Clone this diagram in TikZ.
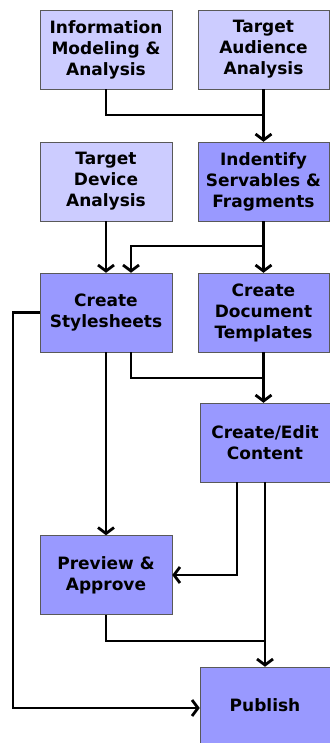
\documentclass[tikz,border=0pt]{standalone}
\usepackage{fontspec}
\setmainfont{DejaVu Sans}
\usetikzlibrary{arrows.meta}

\definecolor{lightbox}{HTML}{CCCCFF}
\definecolor{darkbox}{HTML}{9999FF}

\begin{document}
\begin{tikzpicture}[x=1pt,y=-1pt]
\useasboundingbox (0,0) rectangle (329,743);

\begin{scope}[every node/.style={draw=black!65,fill=lightbox,align=center,inner sep=0pt,
                                 minimum width=132pt,minimum height=79pt,
                                 font=\fontsize{17}{21}\selectfont\bfseries}]
    \node (infomodel) at (106  ,49.5) {Information\\Modeling \&\\Analysis};
    \node (audience)  at (263.5,49.5) [minimum width=131pt] {Target\\Audience\\Analysis};
    \node (device)    at (106  ,181.5) {Target\\Device\\Analysis};
\end{scope}

\begin{scope}[every node/.style={draw=black!65,fill=darkbox,align=center,inner sep=0pt,
                                 minimum width=131pt,minimum height=79pt,
                                 font=\fontsize{17}{21}\selectfont\bfseries}]
    \node (servables)  at (263.5,181.5) {Indentify\\Servables \&\\Fragments};
    \node (stylesheet) at (106  ,312.5) [minimum width=132pt] {Create\\Stylesheets};
    \node (templates)  at (263.5,312.5) {Create\\Document\\Templates};
    \node (content)    at (265  ,442.5) [minimum width=130pt] {Create/Edit\\Content};
    \node (preview)    at (106  ,575  ) [minimum width=132pt] {Preview \&\\Approve};
    \node (publish)    at (265  ,705.5) [minimum width=130pt,minimum height=77pt] {Publish};
\end{scope}

\coordinate (join1) at (263.5,115);
\coordinate (join2) at (263.5,246);
\coordinate (join3) at (264  ,378);
\coordinate (join4) at (265  ,641);
\coordinate (bypass) at (13,708);

\begin{scope}[>={Straight Barb[length=6pt,width=16pt]},line width=2.8pt]
    \draw (infomodel.south) |- (join1);
    \draw [->] (audience) -- (servables);

    \draw [->] (device) -- (stylesheet);
    \draw [->] (servables) -- (templates);
    \draw [->] (join2) -| ([xshift=25pt]stylesheet.north);

    \draw ([xshift=25pt]stylesheet.south) |- (join3);
    \draw [->] (templates.south) -- (templates.south |- content.north);

    \draw [->] (stylesheet) -- (preview);
    \draw [->] (stylesheet.west) -| (bypass) -- (bypass -| publish.west);

    \draw [->] ([xshift=-28pt]content.south) |- (preview.east);
    \draw [->] (content) -- (publish);
    \draw (preview.south) |- (join4);
\end{scope}
\end{tikzpicture}
\end{document}
